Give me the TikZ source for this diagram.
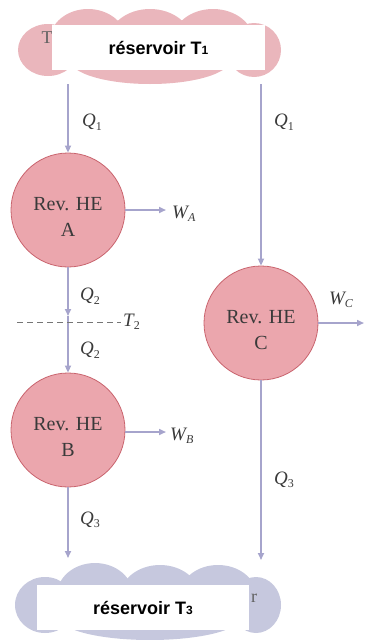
\documentclass[tikz,border=0pt]{standalone}
\usepackage{fontspec}
\setmainfont{Liberation Serif}
\newfontfamily\boxfont{Liberation Sans}
\usetikzlibrary{arrows.meta}
\definecolor{cloudpink}{HTML}{EAB6BC}
\definecolor{cloudblue}{HTML}{C6C8DE}
\definecolor{hefill}{HTML}{EBA6AD}
\definecolor{hedraw}{HTML}{C9646E}
\definecolor{flow}{HTML}{A6A4CC}
\definecolor{ink}{HTML}{3A3A3A}
\newcommand{\sbs}[1]{\raisebox{-3.5pt}{\fontsize{12}{12}\selectfont #1}}
\tikzset{
  engine/.style={circle, fill=hefill, draw=hedraw, line width=0.8pt, minimum size=114pt, inner sep=0pt},
  flowline/.style={draw=flow, line width=1.6pt, -{Triangle[length=7pt,width=6pt]}},
  plainflow/.style={draw=flow, line width=1.6pt},
  lbl/.style={text=ink, font=\itshape\fontsize{19}{19}\selectfont, inner sep=0pt},
  enginetext/.style={text=ink, font=\fontsize{20}{26}\selectfont, align=center, inner sep=0pt, anchor=north},
  resbox/.style={fill=white, font=\boxfont\bfseries\fontsize{18}{18}\selectfont, inner sep=0pt, minimum height=45pt},
  remnant/.style={text=ink!80, font=\fontsize{18}{18}\selectfont, inner sep=0pt}
}
\begin{document}
\begin{tikzpicture}[x=1pt,y=-1pt]
\useasboundingbox (0,0) rectangle (371,640);
% top cloud
\fill[cloudpink] (48,50) ellipse [x radius=30, y radius=26];
\fill[cloudpink] (88,40) ellipse [x radius=38, y radius=31];
\fill[cloudpink] (150,42) ellipse [x radius=42, y radius=33];
\fill[cloudpink] (213,40) ellipse [x radius=40, y radius=31];
\fill[cloudpink] (254,50) ellipse [x radius=27, y radius=27];
\fill[cloudpink] (150,60) ellipse [x radius=80, y radius=24];
% bottom cloud
\fill[cloudblue] (45,605) ellipse [x radius=30, y radius=28];
\fill[cloudblue] (95,595) ellipse [x radius=38, y radius=32];
\fill[cloudblue] (160,597) ellipse [x radius=40, y radius=32];
\fill[cloudblue] (218,595) ellipse [x radius=38, y radius=30];
\fill[cloudblue] (256,605) ellipse [x radius=25, y radius=28];
\fill[cloudblue] (150,618) ellipse [x radius=90, y radius=22];
% remnant letters
\node[remnant] (remT) at (47,38) {T};
\node[remnant] (remr) at (254,598) {r};
% reservoir boxes
\node[resbox, minimum width=213pt] (res1) at (158.5,47.5) {réservoir T{\fontsize{12}{12}\selectfont 1}};
\node[resbox, minimum width=212pt] (res3) at (143,607.5) {réservoir T{\fontsize{12}{12}\selectfont 3}};
% engines
\node[engine] (A) at (68,210) {};
\node[engine] (B) at (68,430) {};
\node[engine] (C) at (261,323) {};
\node[enginetext] (tA) at (68,197) {Rev. HE\\A};
\node[enginetext] (tB) at (68,417) {Rev. HE\\B};
\node[enginetext] (tC) at (261,310) {Rev. HE\\C};
% coordinates
\coordinate (a0) at (68,84);
\coordinate (c0) at (261,84);
\coordinate (d1) at (68,316);
\coordinate (d2) at (68,322);
\coordinate (b9) at (68,558);
\coordinate (c9) at (261,560);
\coordinate (wa) at (166,210);
\coordinate (wb) at (166,432);
\coordinate (wc) at (364,323);
\coordinate (dl) at (17,322);
\coordinate (dr) at (121,322);
% flows
\draw[flowline] (a0) -- (A.north);
\draw[flowline] (c0) -- (C.north);
\draw[flowline] (A.south) -- (d1);
\draw[plainflow] (d1) -- (d2);
\draw[flowline] (d2) -- (B.north);
\draw[flowline] (B.south) -- (b9);
\draw[flowline] (C.south) -- (c9);
\draw[flowline] (A.east) -- (wa);
\draw[flowline] (B.east |- wb) -- (wb);
\draw[flowline] (C.east) -- (wc);
% dashed T2 line
\draw[ink!70, dash pattern=on 6pt off 4pt, line width=0.8pt] (dl) -- (dr);
\node[lbl, anchor=west] (T2) at (123,322) {T\sbs{\upshape 2}};
% labels
\node[lbl] (q1a) at (92,122) {Q\sbs{\upshape 1}};
\node[lbl] (q1c) at (284,122) {Q\sbs{\upshape 1}};
\node[lbl] (q2a) at (90,296) {Q\sbs{\upshape 2}};
\node[lbl] (q2b) at (90,350) {Q\sbs{\upshape 2}};
\node[lbl] (q3b) at (90,520) {Q\sbs{\upshape 3}};
\node[lbl] (q3c) at (284,480) {Q\sbs{\upshape 3}};
\node[lbl, anchor=west] (lwa) at (172,214) {W\sbs{A}};
\node[lbl, anchor=west] (lwb) at (170,436) {W\sbs{B}};
\node[lbl] (lwc) at (341,300) {W\sbs{C}};
\end{tikzpicture}
\end{document}
